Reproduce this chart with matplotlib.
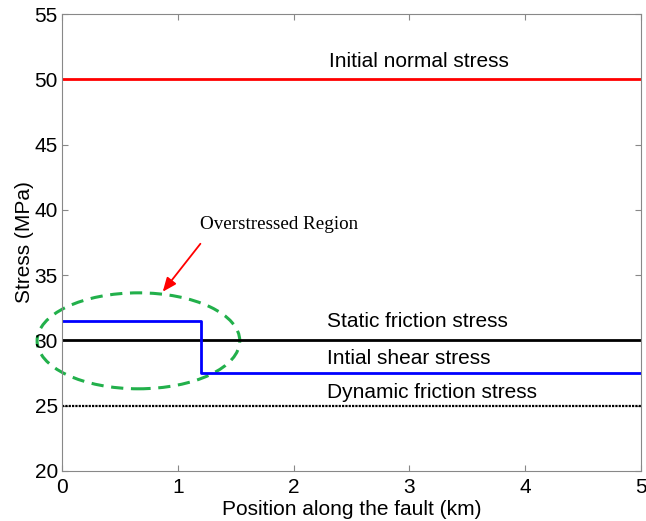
import numpy as np
import matplotlib
matplotlib.use('Agg')
import matplotlib.pyplot as plt
from matplotlib.patches import Ellipse

plt.rcParams['font.family'] = ['Liberation Sans', 'DejaVu Sans']

# data
x_range = [0, 5]
normal_stress = 50
static_friction = 30
dynamic_friction = 25
shear_x = [0, 1.2, 1.2, 5]
shear_y = [31.5, 31.5, 27.5, 27.5]

fig = plt.figure(figsize=(6.46, 5.21), dpi=100)
ax = fig.add_axes([62 / 646, 50 / 521, 579 / 646, 457 / 521])

ax.plot(x_range, [normal_stress] * 2, color='red', lw=2)
ax.plot(x_range, [static_friction] * 2, color='black', lw=2)
ax.plot(shear_x, shear_y, color='blue', lw=2)
ax.plot(x_range, [dynamic_friction] * 2, color='black', lw=1.6, ls=(0, (1, 0.5)))

ell = Ellipse((0.66, 29.97), 1.75, 7.35, fill=False, ls=(0, (4, 2.5)),
              lw=2.2, edgecolor='#22b04b', clip_on=False)
ax.add_patch(ell)

ax.annotate('', xy=(0.855, 33.56), xytext=(1.21, 37.57),
            arrowprops=dict(arrowstyle='-|>,head_length=0.6,head_width=0.25',
                            color='red', lw=1.3, mutation_scale=14))
ax.text(1.19, 38.9, 'Overstressed Region', family='Liberation Serif',
        fontsize=13.7, va='center', ha='left')

fs = 15
ax.text(2.31, 51.4, 'Initial normal stress', ha='left', va='center', fontsize=fs)
ax.text(2.29, 31.45, 'Static friction stress', ha='left', va='center', fontsize=fs)
ax.text(2.29, 28.65, 'Intial shear stress', ha='left', va='center', fontsize=fs)
ax.text(2.29, 26.05, 'Dynamic friction stress', ha='left', va='center', fontsize=fs)

ax.set_xlim(0, 5)
ax.set_ylim(20, 55)
ax.set_xticks(np.arange(0, 6, 1))
ax.set_yticks(np.arange(20, 56, 5))
ax.tick_params(direction='in', top=True, right=True, labelsize=15, length=4.5,
               color='#888888')
ax.tick_params(axis='x', pad=5)
ax.tick_params(axis='y', pad=3)
for s in ax.spines.values():
    s.set_color('#888888')
ax.set_xlabel('Position along the fault (km)', fontsize=15, labelpad=2)
ax.set_ylabel('Stress (MPa)', fontsize=15, labelpad=0)

fig.savefig('out.png', dpi=100)
